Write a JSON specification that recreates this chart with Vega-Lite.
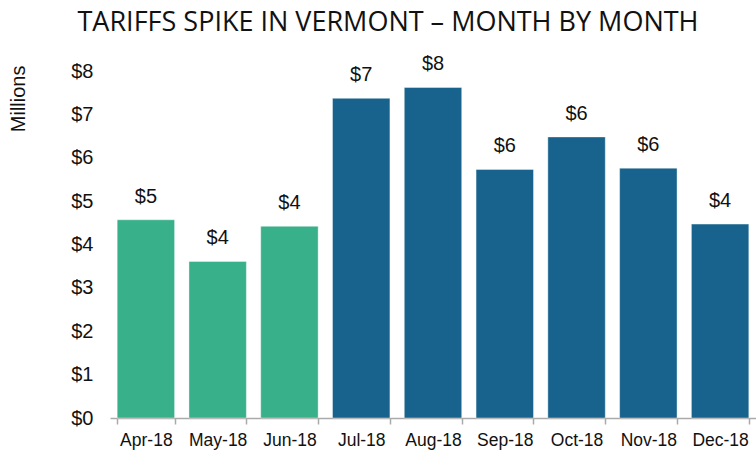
{
  "$schema": "https://vega.github.io/schema/vega-lite/v6.json",
  "autosize": {"type": "none"},
  "padding": {"left": 110, "top": 71, "right": 0, "bottom": 34},
  "width": 646,
  "height": 347,
  "background": "white",
  "config": {"view": {"stroke": null}},
  "title": {
    "text": "TARIFFS SPIKE IN VERMONT – MONTH BY MONTH",
    "font": "Open Sans",
    "fontSize": 27,
    "fontWeight": "normal",
    "color": "#111111",
    "anchor": "middle",
    "dx": -45,
    "offset": 17
  },
  "data": {
    "values": [
      {"month": "Apr-18", "value": 4.57, "group": "before"},
      {"month": "May-18", "value": 3.61, "group": "before"},
      {"month": "Jun-18", "value": 4.42, "group": "before"},
      {"month": "Jul-18", "value": 7.37, "group": "after"},
      {"month": "Aug-18", "value": 7.62, "group": "after"},
      {"month": "Sep-18", "value": 5.73, "group": "after"},
      {"month": "Oct-18", "value": 6.48, "group": "after"},
      {"month": "Nov-18", "value": 5.76, "group": "after"},
      {"month": "Dec-18", "value": 4.47, "group": "after"}
    ]
  },
  "encoding": {
    "x": {
      "field": "month",
      "type": "nominal",
      "sort": null,
      "scale": {"paddingInner": 0.2, "paddingOuter": 0.1},
      "axis": {
        "title": null,
        "labelAngle": 0,
        "labelFont": "Liberation Sans",
        "labelFontSize": 17.5,
        "labelColor": "#111111",
        "labelPadding": 7,
        "tickBand": "extent",
        "tickSize": 6,
        "tickColor": "#aaaaaa",
        "domainColor": "#aaaaaa",
        "domainWidth": 1.5,
        "tickWidth": 1.5
      }
    },
    "y": {
      "field": "value",
      "type": "quantitative",
      "scale": {"domain": [0, 8]},
      "axis": {
        "title": "Millions",
        "titleFont": "Liberation Sans",
        "titleFontSize": 20,
        "titleFontWeight": "normal",
        "titleColor": "#111111",
        "titleAngle": -90,
        "titleAlign": "right",
        "titleBaseline": "middle",
        "titleX": -92,
        "titleY": -6,
        "values": [0, 1, 2, 3, 4, 5, 6, 7, 8],
        "format": "$.0f",
        "labelFont": "Liberation Sans",
        "labelFontSize": 20,
        "labelColor": "#111111",
        "labelPadding": 17,
        "ticks": false,
        "domain": false,
        "grid": false
      }
    }
  },
  "layer": [
    {
      "mark": {"type": "bar", "stroke": "#ffffff", "strokeOpacity": 0.4, "strokeWidth": 1},
      "encoding": {
        "color": {
          "field": "group",
          "type": "nominal",
          "scale": {"domain": ["before", "after"], "range": ["#38B08A", "#17638D"]},
          "legend": null
        }
      }
    },
    {
      "mark": {"type": "text", "baseline": "alphabetic", "dy": -17, "font": "Liberation Sans", "fontSize": 20, "color": "#111111"},
      "encoding": {
        "text": {"field": "value", "type": "quantitative", "format": "$.0f"}
      }
    }
  ]
}
